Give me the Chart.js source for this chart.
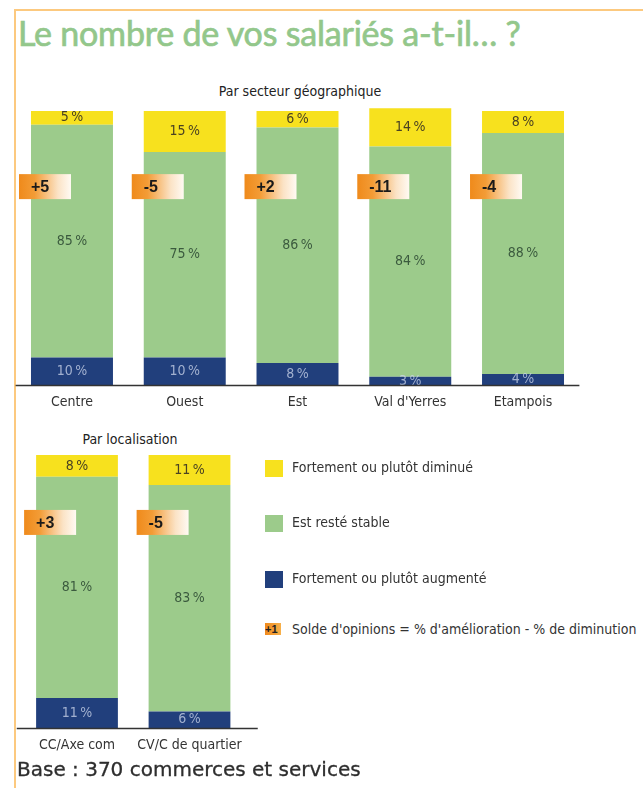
<!DOCTYPE html>
<html><head><meta charset="utf-8">
<script src="https://cdn.jsdelivr.net/npm/chart.js@4/dist/chart.umd.min.js"></script>
<style>
html,body{margin:0;padding:0;background:#fff;}
body{width:643px;height:788px;position:relative;overflow:hidden;}
.fr{position:absolute;background:#fcc97f;}
.txt{position:absolute;white-space:nowrap;}
.cond{font-family:"Liberation Sans Narrow","Arial Narrow","DejaVu Sans Condensed",sans-serif;}
#title{left:18px;top:12px;font-family:Lato,"Open Sans",sans-serif;font-size:34px;color:#93c78b;-webkit-text-stroke:0.7px #93c78b;letter-spacing:-0.2px;}
#sub1{left:0;width:600px;text-align:center;top:83px;font-size:14px;color:#222;}
#sub2{left:30px;width:200px;text-align:center;top:431px;font-size:14px;color:#222;}
#base{left:17px;top:757px;font-family:"DejaVu Sans",sans-serif;font-size:20px;color:#2e2e2e;-webkit-text-stroke:0.3px #2e2e2e;}
canvas{position:absolute;}
.sw{position:absolute;width:18px;height:17px;}
.lg{font-size:14px;color:#333;}
#sico{position:absolute;left:265px;top:623px;width:16px;height:12px;background:linear-gradient(90deg,#f08a1c,#f7b04a);font:bold 11px "Liberation Sans",sans-serif;line-height:12px;color:#222;}
</style></head><body>
<div class="fr" style="left:14px;top:9px;width:629px;height:2px"></div>
<div class="fr" style="left:14px;top:9px;width:2px;height:779px"></div>
<div id="title" class="txt">Le nombre de vos salariés a-t-il… ?</div>
<div id="sub1" class="txt cond">Par secteur géographique</div>
<div id="sub2" class="txt cond">Par localisation</div>
<canvas id="c1" width="643" height="420" style="left:0;top:0"></canvas>
<canvas id="c2" width="270" height="340" style="left:0;top:420px"></canvas>
<div class="sw" style="left:265px;top:460px;background:#f7e11e"></div>
<div class="txt cond lg" style="left:292px;top:459px">Fortement ou plutôt diminué</div>
<div class="sw" style="left:265px;top:515px;background:#9ccb8b"></div>
<div class="txt cond lg" style="left:292px;top:514px">Est resté stable</div>
<div class="sw" style="left:265px;top:571px;background:#213f7c"></div>
<div class="txt cond lg" style="left:292px;top:570px">Fortement ou plutôt augmenté</div>
<div id="sico">+1</div>
<div class="txt cond lg" style="left:292px;top:621px">Solde d'opinions = % d'amélioration - % de diminution</div>
<div id="base" class="txt">Base : 370 commerces et services</div>
<script>
const topCategories = ['Centre', 'Ouest', 'Est', "Val d'Yerres", 'Etampois'];
const topAugmente = [10, 10, 8, 3, 4];
const topStable = [85, 75, 86, 84, 88];
const topDiminue = [5, 15, 6, 14, 8];
const topSolde = ['+5', '-5', '+2', '-11', '-4'];

const botCategories = ['CC/Axe com', 'CV/C de quartier'];
const botAugmente = [11, 6];
const botStable = [81, 83];
const botDiminue = [8, 11];
const botSolde = ['+3', '-5'];

const COND = '"Liberation Sans Narrow","Arial Narrow","DejaVu Sans Condensed",sans-serif';

const segLabels = {
  id: 'segLabels',
  afterDatasetsDraw(chart) {
    const ctx = chart.ctx;
    ctx.save();
    ctx.font = '14px ' + COND;
    ctx.textAlign = 'center';
    ctx.textBaseline = 'middle';
    chart.data.datasets.forEach((ds, i) => {
      chart.getDatasetMeta(i).data.forEach((bar, j) => {
        ctx.fillStyle = ds.labelColor;
        ctx.fillText(ds.data[j] + '\u202F%', bar.x, (bar.y + bar.base) / 2);
      });
    });
    ctx.restore();
  }
};

const baseLine = {
  id: 'baseLine',
  afterDatasetsDraw(chart, args, opts) {
    const ctx = chart.ctx, a = chart.chartArea;
    const y = chart.scales.y.getPixelForValue(0);
    ctx.save();
    ctx.strokeStyle = '#333';
    ctx.lineWidth = 1.5;
    ctx.beginPath();
    ctx.moveTo(a.left - opts.extL, y + 0.5);
    ctx.lineTo(a.right + opts.extR, y + 0.5);
    ctx.stroke();
    ctx.restore();
  }
};

const soldeBoxes = {
  id: 'solde',
  afterDatasetsDraw(chart, args, opts) {
    const ctx = chart.ctx;
    const yc = chart.scales.y.getPixelForValue(opts.at);
    ctx.save();
    chart.getDatasetMeta(0).data.forEach((bar, j) => {
      const x0 = bar.x - bar.width / 2 - 12, w = 52, h = 25, y0 = yc - h / 2;
      const g = ctx.createLinearGradient(x0, 0, x0 + w, 0);
      g.addColorStop(0, '#ef8a1b');
      g.addColorStop(0.3, '#f39c36');
      g.addColorStop(0.75, '#fbe3c6');
      g.addColorStop(1, '#fffaf3');
      ctx.fillStyle = g;
      ctx.fillRect(x0, y0, w, h);
      ctx.fillStyle = '#1a1a1a';
      ctx.font = 'bold 16px "Liberation Sans",Arial,sans-serif';
      ctx.textAlign = 'left';
      ctx.textBaseline = 'middle';
      ctx.fillText(opts.values[j], x0 + 12, yc + 1);
    });
    ctx.restore();
  }
};

function makeChart(id, cats, aug, stab, dim, solde, padding, at, extL, extR) {
  return new Chart(document.getElementById(id), {
    type: 'bar',
    data: {
      labels: cats,
      datasets: [
        { label: 'Fortement ou plutôt augmenté', data: aug, backgroundColor: '#213f7c', labelColor: 'rgba(205,215,235,0.75)', clip: false },
        { label: 'Est resté stable', data: stab, backgroundColor: '#9ccb8b', labelColor: '#3b5a3e', clip: false },
        { label: 'Fortement ou plutôt diminué', data: dim, backgroundColor: '#f7e11e', labelColor: '#4a4222', clip: false }
      ]
    },
    options: {
      responsive: false, animation: false, devicePixelRatio: 1,
      layout: { padding: padding },
      datasets: { bar: { barPercentage: 0.727, categoryPercentage: 1, borderWidth: 0 } },
      plugins: {
        legend: { display: false }, tooltip: { enabled: false },
        solde: { values: solde, at: at },
        baseLine: { extL: extL, extR: extR }
      },
      scales: {
        x: {
          stacked: true,
          grid: { display: false, drawTicks: false },
          border: { display: false },
          ticks: { padding: 9, color: '#333', font: { size: 14, family: COND } },
          afterFit: s => { s.height = 30; }
        },
        y: { stacked: true, display: false, min: 0, max: 100 }
      }
    },
    plugins: [segLabels, baseLine, soldeBoxes]
  });
}

makeChart('c1', topCategories, topAugmente, topStable, topDiminue, topSolde,
  { left: 15.6, right: 63.6, top: 111, bottom: 5 }, 72.4, 0, 0);
makeChart('c2', botCategories, botAugmente, botStable, botDiminue, botSolde,
  { left: 20.75, right: 24.25, top: 35, bottom: 2 }, 75.3, 4, 12);
</script>
</body></html>
